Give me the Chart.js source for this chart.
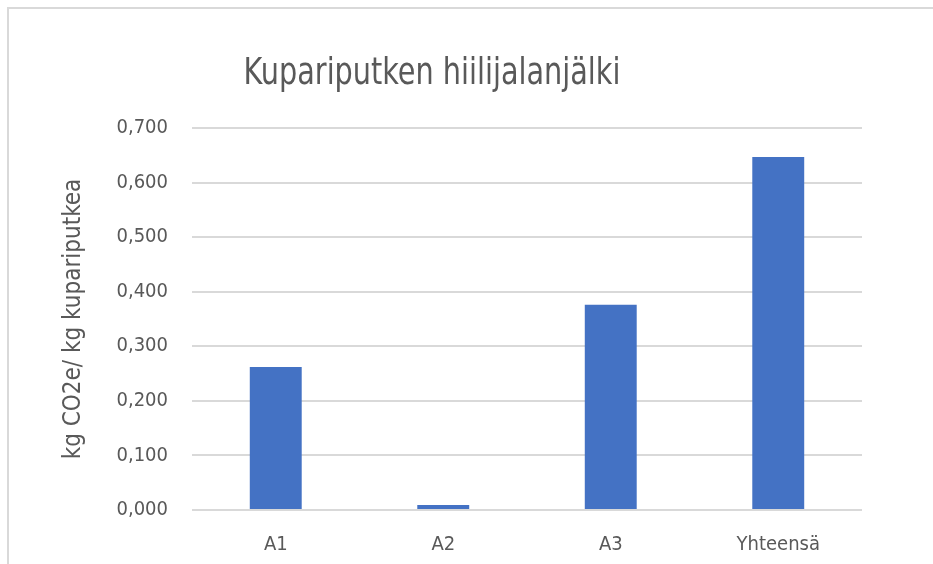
<!DOCTYPE html>
<html>
<head>
<meta charset="utf-8">
<script src="https://cdn.jsdelivr.net/npm/chart.js@4.4.1/dist/chart.umd.min.js"></script>
<style>
  html, body { margin: 0; padding: 0; background: #fff; }
  #wrap { width: 933px; height: 564px; position: relative; }
</style>
</head>
<body>
<div id="wrap"><canvas id="mainChart" width="933" height="564"></canvas></div>
<script>
const categories = ['A1', 'A2', 'A3', 'Yhteensä'];
const footprint = [0.262, 0.009, 0.376, 0.647];
const yTicks = [0, 0.1, 0.2, 0.3, 0.4, 0.5, 0.6, 0.7];

const chartTitle = 'Kupariputken hiilijalanjälki';
const yTitle = 'kg CO2e/ kg kupariputkea';

const FONT = "'DejaVu Sans Condensed', 'Liberation Sans', sans-serif";
const TEXT = '#595959';
const GRID = '#d9d9d9';

// white background, frame lines and the title (squeezed a bit, the original font is narrow)
const framePlugin = {
    id: 'frame',
    beforeDraw(chart) {
        const ctx = chart.ctx;
        ctx.save();
        ctx.fillStyle = '#fff';
        ctx.fillRect(0, 0, chart.width, chart.height);
        ctx.strokeStyle = GRID;
        ctx.lineWidth = 2;
        ctx.beginPath();
        ctx.moveTo(8, chart.height);
        ctx.lineTo(8, 8);
        ctx.lineTo(chart.width, 8);
        ctx.stroke();
        ctx.restore();
    },
    afterDraw(chart) {
        const ctx = chart.ctx;
        ctx.save();
        ctx.fillStyle = TEXT;
        ctx.font = `38px ${FONT}`;
        ctx.textAlign = 'center';
        ctx.textBaseline = 'middle';
        ctx.translate(432, 74);
        ctx.scale(0.84, 1);
        ctx.fillText(chartTitle, 0, 0);
        ctx.restore();
    }
};

new Chart(document.getElementById('mainChart'), {
    type: 'bar',
    data: {
        labels: categories,
        datasets: [{
            data: footprint,
            backgroundColor: '#4472c4',
            borderWidth: 0,
            categoryPercentage: 1,
            barPercentage: 0.31
        }]
    },
    options: {
        responsive: false,
        animation: false,
        layout: { padding: { left: 55, right: 71, top: 128, bottom: 0 } },
        plugins: {
            legend: { display: false },
            tooltip: { enabled: false }
        },
        scales: {
            x: {
                grid: { display: false },
                border: { display: false },
                ticks: { color: TEXT, font: { family: FONT, size: 20 }, padding: 15 },
                afterFit: (scale) => { scale.height = 54; }
            },
            y: {
                min: 0,
                max: 0.7,
                afterBuildTicks: (scale) => { scale.ticks = yTicks.map(v => ({ value: v })); },
                grid: { color: GRID, lineWidth: 2, drawTicks: false },
                border: { display: false },
                ticks: {
                    color: TEXT,
                    font: { family: FONT, size: 20 },
                    padding: 24,
                    callback: (v) => v.toFixed(3).replace('.', ',')
                },
                title: {
                    display: true,
                    text: yTitle,
                    color: TEXT,
                    font: { family: FONT, size: 24 },
                    padding: { top: 4, bottom: 0 }
                },
                afterFit: (scale) => { scale.width = 137; }
            }
        }
    },
    plugins: [framePlugin]
});
</script>
</body>
</html>
